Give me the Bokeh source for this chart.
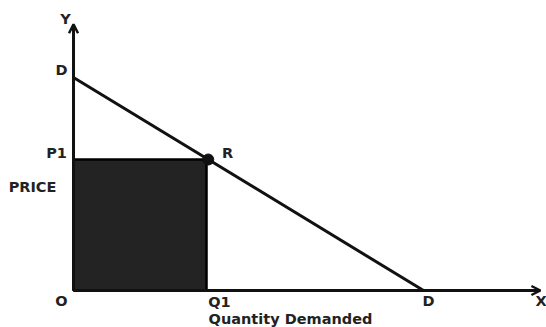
from bokeh.plotting import figure
from bokeh.models import Arrow, OpenHead, Range1d
from bokeh.core.properties import value
from bokeh.embed import file_html
from bokeh.resources import INLINE

# Data (demand curve P = 10 - Q)
demand_q = [0, 10]
demand_p = [10, 0]
q1 = 3.8
p1 = 6.15
x_axis_end = 13.34
y_axis_end = 12.5

W, H = 546, 327
X0, X1 = -2.086, 13.514
Y0, Y1 = -1.737, 13.615

def px_x(sx):
    return X0 + sx / W * (X1 - X0)

def px_y(sy):
    return Y1 - sy / H * (Y1 - Y0)

p = figure(width=W, height=H, output_backend="svg", toolbar_location=None,
           x_range=Range1d(X0, X1), y_range=Range1d(Y0, Y1),
           min_border=0, outline_line_color=None)
p.axis.visible = False
p.grid.visible = False
p.background_fill_color = "white"
p.border_fill_color = "white"

# shaded revenue rectangle
p.quad(left=[0], right=[q1], bottom=[0], top=[p1], fill_color="#232323",
       line_color="#000000", line_width=2.5)

# demand line
p.line(demand_q, demand_p, line_color="#111111", line_width=3)

# axes with arrows
p.add_layout(Arrow(end=OpenHead(size=9, line_width=2.5, line_color="#111111"),
                   x_start=0, y_start=0, x_end=0, y_end=y_axis_end,
                   line_width=3, line_color="#111111"))
p.add_layout(Arrow(end=OpenHead(size=9, line_width=2.5, line_color="#111111"),
                   x_start=0, y_start=0, x_end=x_axis_end, y_end=0,
                   line_width=3, line_color="#111111"))

# point R
p.scatter([q1 + 0.05], [10 - q1 - 0.05], size=11, fill_color="#111111", line_color="#111111")

labels = [
    ("Y", 65, 18, "center"),
    ("D", 61, 69, "center"),
    ("P1", 56, 152, "center"),
    ("PRICE", 32, 186, "center"),
    ("R", 227, 152, "center"),
    ("O", 61, 300, "center"),
    ("Q1", 219, 301, "center"),
    ("D", 428, 300, "center"),
    ("X", 535, 300, "left"),
    ("Quantity Demanded", 290, 318, "center"),
]
for t, sx, sy, al in labels:
    p.text([px_x(sx)], [px_y(sy)], text=[t], text_font=value("DejaVu Sans"),
           text_font_style="bold", text_font_size="14.5px", text_color="#222222",
           text_align=al, text_baseline="middle")

open("out.html", "w").write(file_html(p, INLINE))
